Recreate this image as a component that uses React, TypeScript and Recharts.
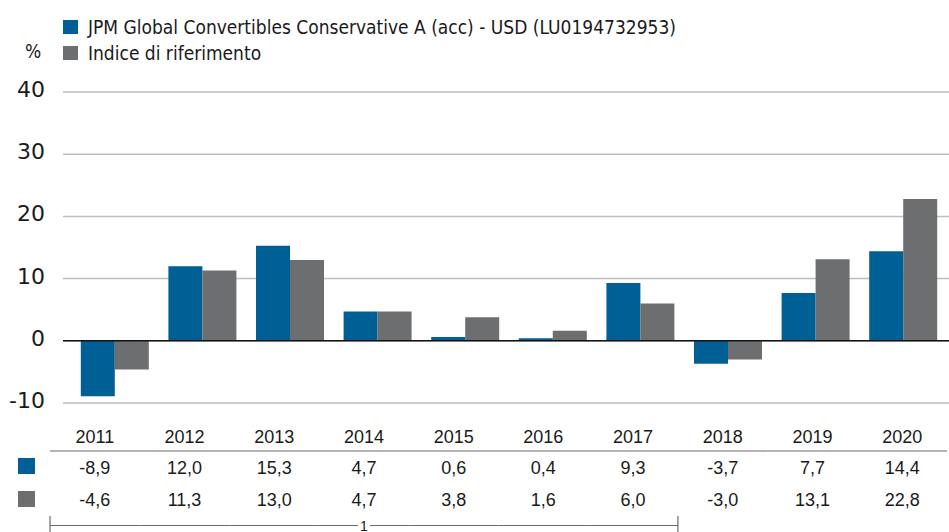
import React from 'react';
import { BarChart, Bar, XAxis, YAxis, CartesianGrid, ReferenceLine, Legend } from 'recharts';

const years = ['2011', '2012', '2013', '2014', '2015', '2016', '2017', '2018', '2019', '2020'];
const fundReturns = [-8.9, 12.0, 15.3, 4.7, 0.6, 0.4, 9.3, -3.7, 7.7, 14.4];
const benchmarkReturns = [-4.6, 11.3, 13.0, 4.7, 3.8, 1.6, 6.0, -3.0, 13.1, 22.8];
const seriesNames = ['JPM Global Convertibles Conservative A (acc) - USD (LU0194732953)', 'Indice di riferimento'];
const yTicks = [-10, 0, 10, 20, 30, 40];
const yUnit = '%';
const footnote = { label: '1', firstYear: '2011', lastYear: '2017' };

const BLUE = '#006096';
const GRAY = '#6d6e70';
const W = 949;
const H = 532;
const PLOT_LEFT = 50;
const GRID_LEFT = 63;
const TABLE_PAD_RIGHT = 2;
const TABLE_BW = (W - PLOT_LEFT - TABLE_PAD_RIGHT) / years.length;
const TABLE_TOP = 403;
const TABLE_FONT = "'Liberation Sans', Arial, sans-serif";
const AXIS_FONT = "'DejaVu Sans', Verdana, sans-serif";
const LEGEND_FONT = "'Liberation Sans Narrow', 'DejaVu Sans Condensed', 'Liberation Sans', sans-serif";

const data = years.map((year, i) => ({ year, fund: fundReturns[i], benchmark: benchmarkReturns[i] }));
const colors = [BLUE, GRAY];

const fmt = (v: number) => v.toFixed(1).replace('.', ',');

function YTick(props: any) {
  const { x, y, payload } = props;
  return (
    <text x={x} y={y + 5} textAnchor="end" fontFamily={AXIS_FONT} fontSize={22} fill="#1a1a1a">
      {payload.value}
    </text>
  );
}

function TableTick(props: any) {
  const { x, payload, index } = props;
  const y = TABLE_TOP;
  const i = index;
  const left = x - TABLE_BW / 2;
  const right = x + TABLE_BW / 2;
  const first = years.indexOf(footnote.firstYear);
  const last = years.indexOf(footnote.lastYear);
  const inSpan = i >= first && i <= last;
  const labelX = right - ((last - first + 1) * TABLE_BW) / 2;
  const txt = { textAnchor: 'middle' as const, fontFamily: TABLE_FONT, fontSize: 18, fill: '#1a1a1a' };
  return (
    <g>
      <text x={x} y={y + 40} {...txt}>{payload.value}</text>
      <line x1={left} x2={right} y1={y + 48} y2={y + 48} stroke="#6b6b6b" strokeWidth={1.2} />
      <text x={x} y={y + 71} {...txt}>{fmt(fundReturns[i])}</text>
      <text x={x} y={y + 103} {...txt}>{fmt(benchmarkReturns[i])}</text>
      {i === 0 && (
        <g>
          <rect x={left - 32} y={y + 55} width={17} height={16} fill={BLUE} />
          <rect x={left - 32} y={y + 88} width={17} height={16} fill={GRAY} />
        </g>
      )}
      {inSpan && (
        <line x1={left} x2={right} y1={y + 122.5} y2={y + 122.5} stroke="#6b6b6b" strokeWidth={1.2} />
      )}
      {i === first && <line x1={left} x2={left} y1={y + 113} y2={y + 129} stroke="#6b6b6b" strokeWidth={1.2} />}
      {i === last && (
        <g>
          <line x1={right} x2={right} y1={y + 113} y2={y + 129} stroke="#6b6b6b" strokeWidth={1.2} />
          <rect x={labelX - 6} y={y + 115} width={12} height={14} fill="#fff" />
          <text x={labelX} y={y + 127.5} textAnchor="middle" fontFamily={TABLE_FONT} fontSize={14} fill="#1a1a1a">
            {footnote.label}
          </text>
        </g>
      )}
    </g>
  );
}

function LegendContent() {
  return (
    <div style={{ position: 'relative', width: W, height: 92, fontFamily: LEGEND_FONT, fontSize: 19, color: '#1a1a1a' }}>
      {seriesNames.map((name, i) => (
        <div key={name} style={{ position: 'absolute', left: 63, top: 19 + i * 26, height: 16, display: 'flex', alignItems: 'center', whiteSpace: 'nowrap' }}>
          <span style={{ display: 'inline-block', width: 15, height: 14, background: colors[i] }} />
          <span style={{ marginLeft: 10, lineHeight: '16px' }}>{name}</span>
        </div>
      ))}
    </div>
  );
}

export default function App() {
  return (
    <div style={{ position: 'absolute', left: 0, top: 0, background: '#fff' }}>
      <BarChart width={W} height={H} data={data} margin={{ top: 0, right: 0, bottom: 0, left: 0 }} barGap={0} barCategoryGap={9.8}>
        <Legend verticalAlign="top" align="left" content={<LegendContent />} wrapperStyle={{ top: 0, left: 0, width: W, height: 92 }} />
        <CartesianGrid xAxisId="bars" vertical={false} x={GRID_LEFT} width={W - GRID_LEFT} stroke="#bdbdbd" strokeWidth={1.5} />
        <XAxis xAxisId="bars" dataKey="year" hide padding={{ left: 21, right: 2 }} />
        <XAxis
          xAxisId="table"
          dataKey="year"
          padding={{ left: 0, right: TABLE_PAD_RIGHT }}
          height={129}
          axisLine={false}
          tickLine={false}
          tickSize={0}
          tickMargin={0}
          interval={0}
          tick={<TableTick />}
        />
        <YAxis
          width={PLOT_LEFT}
          domain={[-10, 40]}
          ticks={yTicks}
          interval={0}
          axisLine={false}
          tickLine={false}
          tickSize={0}
          tickMargin={5}
          tick={<YTick />}
          label={{
            content: (p: any) => (
              <text x={33} y={(p.viewBox?.y ?? 92) - 34} textAnchor="middle" fontFamily={LEGEND_FONT} fontSize={19} fill="#1a1a1a">
                {yUnit}
              </text>
            ),
          }}
        />
        <Bar xAxisId="bars" dataKey="fund" name={seriesNames[0]} fill={BLUE} isAnimationActive={false} />
        <Bar xAxisId="bars" dataKey="benchmark" name={seriesNames[1]} fill={GRAY} isAnimationActive={false} />
        <ReferenceLine
          xAxisId="bars"
          y={0}
          shape={(p: any) => (
            <line x1={GRID_LEFT} x2={Math.max(p.x1, p.x2)} y1={p.y1} y2={p.y2} stroke="#111" strokeWidth={1.5} />
          )}
        />
      </BarChart>
    </div>
  );
}
